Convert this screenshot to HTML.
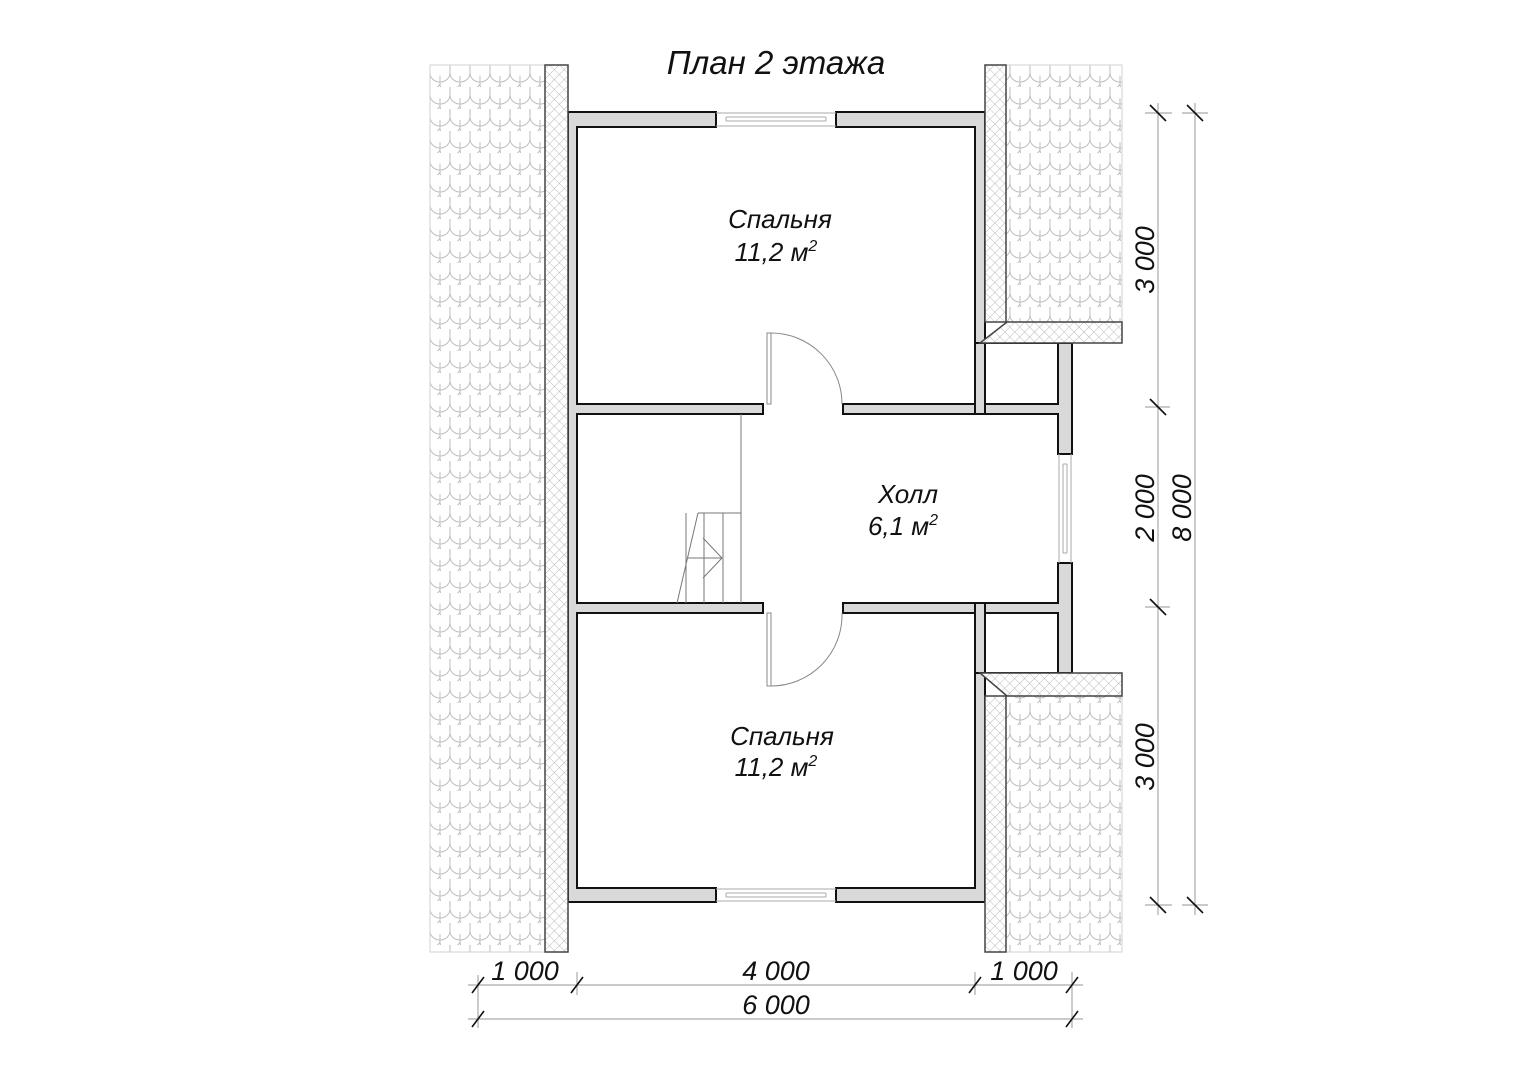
<!DOCTYPE html>
<html><head><meta charset="utf-8"><style>
html,body{margin:0;padding:0;background:#fff;}
svg{display:block;}
text{font-family:"Liberation Sans",sans-serif;font-style:italic;fill:#111;}
</style></head><body>
<svg width="1528" height="1080" viewBox="0 0 1528 1080" xmlns="http://www.w3.org/2000/svg">
<defs>
<pattern id="tile" width="20" height="22" patternUnits="userSpaceOnUse" x="430" y="65">
<path d="M0 0 V8 A10 9 0 0 0 20 8 V0" fill="none" stroke="#bdbdbd" stroke-width="1"/>
<path d="M10 11 V19 A10 9 0 0 0 30 19" fill="none" stroke="#bdbdbd" stroke-width="1"/>
<path d="M-10 11 A10 9 0 0 0 10 19" fill="none" stroke="#bdbdbd" stroke-width="1"/>
</pattern>
<pattern id="hatch" width="7" height="7" patternUnits="userSpaceOnUse" patternTransform="rotate(45)">
<path d="M0 0 H7 M0 0 V7" stroke="#a8a8a8" stroke-width="0.8"/>
</pattern>
</defs>

<rect x="430" y="65" width="115" height="887" fill="url(#tile)" stroke="#d0d0d0"/>
<rect x="1006" y="65" width="116" height="257" fill="url(#tile)" stroke="#d0d0d0"/>
<rect x="1006" y="696" width="116" height="256" fill="url(#tile)" stroke="#d0d0d0"/>

<rect x="568" y="112" width="417" height="790" fill="#d9d9d9"/>
<rect x="975" y="343" width="97" height="330" fill="#d9d9d9" stroke="#111" stroke-width="2"/>
<rect x="568" y="112" width="417" height="790" fill="none" stroke="#111" stroke-width="2"/>
<g fill="#fff" stroke="#111" stroke-width="2">
<rect x="577" y="127" width="398" height="277"/>
<rect x="577" y="613" width="398" height="275"/>
<rect x="985" y="343" width="73" height="61"/>
<rect x="985" y="613" width="73" height="60"/>
<rect x="577" y="414" width="481" height="189"/>
</g>
<rect x="976" y="415" width="81" height="187" fill="#fff"/>
<rect x="976" y="405" width="8" height="8" fill="#d9d9d9"/>
<rect x="976" y="604" width="8" height="8" fill="#d9d9d9"/>
<rect x="764" y="402" width="78" height="14" fill="#fff"/>
<rect x="764" y="601" width="78" height="14" fill="#fff"/>
<g stroke="#111" stroke-width="2">
<path d="M763 404V414M843 404V414M763 603V613M843 603V613"/>
</g>
<rect x="717" y="110" width="118" height="19" fill="#fff"/>
<rect x="717" y="886" width="118" height="18" fill="#fff"/>
<rect x="1056" y="455" width="18" height="107" fill="#fff"/>
<g stroke="#111" stroke-width="2">
<path d="M716 112V127M836 112V127M716 888V902M836 888V902M1058 454H1072M1058 563H1072"/>
</g>
<g stroke="#aaa" stroke-width="1" fill="none">
<path d="M716 113H836M716 126H836M726 117H826M726 121H826M726 117V121M826 117V121"/>
<path d="M716 889H836M716 901H836M726 893H826M726 897H826M726 893V897M826 893V897"/>
<path d="M1059 454V563M1071 454V563M1063 464V553M1067 464V553M1063 464H1067M1063 553H1067"/>
</g>

<rect x="545" y="65" width="23" height="887" fill="#fff"/>
<rect x="545" y="65" width="23" height="887" fill="url(#hatch)" stroke="#444" stroke-width="1.5"/>
<rect x="985" y="65" width="21" height="257" fill="#fff"/>
<rect x="985" y="65" width="21" height="257" fill="url(#hatch)" stroke="#444" stroke-width="1.5"/>
<rect x="985" y="696" width="21" height="256" fill="#fff"/>
<rect x="985" y="696" width="21" height="256" fill="url(#hatch)" stroke="#444" stroke-width="1.5"/>
<polygon points="1007,322 1122,322 1122,343 980,343" fill="#fff"/>
<polygon points="1007,322 1122,322 1122,343 980,343" fill="url(#hatch)" stroke="#444" stroke-width="1.5"/>
<polygon points="980,673 1122,673 1122,696 1007,696" fill="#fff"/>
<polygon points="980,673 1122,673 1122,696 1007,696" fill="url(#hatch)" stroke="#444" stroke-width="1.5"/>

<g stroke="#888" stroke-width="1" fill="none">
<rect x="767" y="333" width="4" height="71"/>
<path d="M771 333 A71 71 0 0 1 842 404"/>
<rect x="767" y="613" width="4" height="73"/>
<path d="M771 686 A71 71 0 0 0 842 613"/>
</g>

<g stroke="#777" stroke-width="1" fill="none">
<path d="M741 414V603"/>
<path d="M698 513H741M698 513L677 603M686 513V603M704 513V603M723 513V603"/>
<path d="M687 558H722M703 538L722 558L703 578"/>
</g>

<text x="776" y="74" font-size="33" text-anchor="middle">План 2 этажа</text>
<text x="780" y="228" font-size="26" text-anchor="middle">Спальня</text>
<text x="776" y="261" font-size="26" text-anchor="middle">11,2 м<tspan font-size="16" dy="-10">2</tspan></text>
<text x="908" y="503" font-size="26" text-anchor="middle">Холл</text>
<text x="903" y="535" font-size="26" text-anchor="middle">6,1 м<tspan font-size="16" dy="-10">2</tspan></text>
<text x="782" y="745" font-size="26" text-anchor="middle">Спальня</text>
<text x="776" y="776" font-size="26" text-anchor="middle">11,2 м<tspan font-size="16" dy="-10">2</tspan></text>

<g stroke="#aaa" stroke-width="1.2">
<path d="M468 985H1083M468 1019H1083"/>
<path d="M478 975V1028M577 972V995M975 972V995M1072 972V1028"/>
</g>
<g stroke="#111" stroke-width="1.6">
<path d="M472 993L484 977M571 993L583 977M969 993L981 977M1066 993L1078 977M472 1027L484 1011M1066 1027L1078 1011"/>
</g>
<text x="525" y="980" font-size="27" text-anchor="middle">1 000</text>
<text x="776" y="980" font-size="27" text-anchor="middle">4 000</text>
<text x="1024" y="980" font-size="27" text-anchor="middle">1 000</text>
<text x="776" y="1014" font-size="27" text-anchor="middle">6 000</text>

<g stroke="#aaa" stroke-width="1.2">
<path d="M1158 103V915M1195 103V915"/>
<path d="M1145 113H1172M1182 113H1208M1145 407H1170M1145 607H1170M1145 905H1172M1182 905H1208"/>
</g>
<g stroke="#111" stroke-width="1.6">
<path d="M1150 105L1166 121M1187 105L1203 121M1150 399L1166 415M1150 599L1166 615M1150 897L1166 913M1187 897L1203 913"/>
</g>
<text transform="translate(1154,260) rotate(-90)" font-size="27" text-anchor="middle">3 000</text>
<text transform="translate(1154,508) rotate(-90)" font-size="27" text-anchor="middle">2 000</text>
<text transform="translate(1154,757) rotate(-90)" font-size="27" text-anchor="middle">3 000</text>
<text transform="translate(1191,508) rotate(-90)" font-size="27" text-anchor="middle">8 000</text>
</svg>
</body></html>
